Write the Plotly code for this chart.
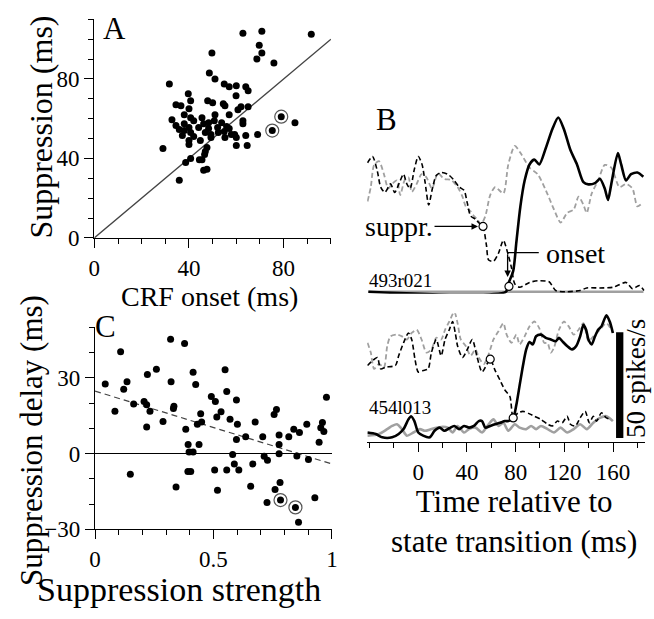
import plotly.graph_objects as go

W, H = 654, 619
SERIF = "Liberation Serif, Times New Roman, serif"

# ---- panel A: CRF onset vs suppression (ms)
crf_onset = [62.8, 70.8, 91.7, 69.7, 70.8, 68.7, 75.9, 49.7, 31.7, 48.6,
             51, 54.9, 57, 60, 64, 65, 59.9, 39.7, 40.7, 47.9,
             50, 54.5, 55.2, 34.5, 36.6, 40, 62, 65, 60.7, 38,
             32.8, 40.7, 42, 45.5, 51, 57, 62.8, 62.8, 50.7, 53.8,
             48.3, 46.2, 34.5, 38, 40, 44.1, 48.3, 52.1, 55.9, 57,
             35.9, 38, 40.7, 46.9, 49.3, 52.4, 54.9, 57.9, 37.2, 42,
             49.3, 55.2, 59.3, 60, 64, 69, 40, 44.8, 40, 60,
             64.6, 29, 47.6, 46.9, 46.6, 45.5, 44.4, 40.7, 38.6, 46.2,
             47.6, 35.9, 84.8, 79, 75.2]
suppression = [103, 104, 102.5, 97, 93, 90, 88, 93, 77.5, 83,
               80, 77.5, 76, 76.5, 76, 74, 71.5, 72.5, 69, 69,
               68, 67.5, 66.5, 67, 66.5, 65, 66, 66, 64.5, 62,
               59.5, 60.5, 59, 60.5, 62, 62, 59, 57.5, 59, 58,
               58, 57.5, 56.5, 57.5, 55.5, 55.5, 55, 55.5, 56, 55,
               54.5, 54, 53, 53, 52, 53, 53.5, 52, 51.5, 51,
               50.5, 50.5, 52, 50.5, 51.5, 52, 49, 49, 47, 46.5,
               46.5, 45, 45.5, 43.5, 42, 39.3, 39.3, 40, 38, 34,
               34.5, 29, 58, 61, 54]
a_marked = [83, 84]
unity = [0, 100]

# ---- panel C: suppression strength vs suppression delay
supp_strength = [0.043, 0.084, 0.108, 0.121, 0.135, 0.149, 0.163, 0.207, 0.218, 0.232,
                 0.218, 0.221, 0.259, 0.287, 0.321, 0.319, 0.333, 0.331, 0.342, 0.378,
                 0.383, 0.393, 0.397, 0.404, 0.414, 0.425, 0.432, 0.446, 0.439, 0.414,
                 0.45, 0.491, 0.508, 0.505, 0.517, 0.514, 0.532, 0.549, 0.556, 0.57,
                 0.556, 0.581, 0.588, 0.601, 0.597, 0.607, 0.636, 0.597, 0.657, 0.666,
                 0.676, 0.708, 0.714, 0.726, 0.728, 0.756, 0.766, 0.76, 0.781, 0.777,
                 0.777, 0.777, 0.783, 0.846, 0.818, 0.839, 0.852, 0.859, 0.863, 0.894,
                 0.901, 0.928, 0.946, 0.953, 0.96, 0.966, 0.977, 0.392]
supp_delay = [27.6, 16.8, 40.4, 25.5, 28.5, -8.2, 19.7, 20.7, 19.4, 16.8,
              10.6, 31.4, 33.4, 12.7, 28.5, 45.3, 18.8, 17.9, -13.2, 43.6,
              9.7, 3.6, 0.6, -7.1, 32.3, 27.4, 11.6, 15.8, 3.6, 0.6,
              12.5, 22.6, 20.7, -6.5, -14.5, 14.5, 16.6, 33.2, 24.6, 13.6,
              -6.5, -0.3, -4.1, 11.6, 5.6, -6.5, 6.7, 21.3, -12.9, -4.1,
              12.5, 6.7, -1, -19.4, -2.6, 15.5, 17.5, -14.2, -11.4, 7.4,
              3.6, 0, -18.4, -21.3, 6.7, 9.7, -0.9, -27.2, 8.4, 11.6,
              -2.3, -17.5, 4.5, 10.3, 12.3, 8.8, 22.3, -7.1]
c_marked = [62, 63]
fit_x = [0, 1]
fit_y = [24.8, -4.1]

# ---- panel B, cell 493r021 (spikes/s vs ms)
b1_black_t = [-41, 72, 73.9, 78, 80.6, 83.9, 87.4, 91.4, 95.4, 99.4,
              104.8, 110.2, 115, 119.6, 125, 130.4, 135.7, 139.8, 145.2, 149.2,
              153.2, 155.9, 158.6, 164, 166.7, 170.7, 174.8, 180, 184.9]
b1_black_r = [0, 0, 3.7, 9.8, 23.5, 40.4, 52.6, 60.2, 62.5, 60.2,
              68, 77, 82.4, 77, 67, 60.2, 51.8, 50.8, 51.4, 53.4,
              48.8, 43.4, 51, 65.6, 60.2, 52.6, 55.6, 56.4, 54.4]
b1_black_dash_t = [-41.7, -37.6, -33.6, -30.9, -27.4, -22.8, -19.4, -14.8, -12.1, -9.4,
                   -6.7, -3.2, 0, 3.2, 5.4, 8.6, 11.3, 14.8, 18.8, 24.2,
                   29.6, 33.6, 37.6, 40.3, 43, 47, 51.6, 53.2, 56, 57.8,
                   61.8, 65.9, 69.9, 73.9, 76.6, 79.3, 83.3, 91.4, 98, 107.5,
                   112.9, 122.3, 133, 138.4, 149, 160, 170.7, 176, 181.5, 185.5]
b1_black_dash_r = [61, 64, 57, 49.5, 47, 51, 47, 52.6, 55.6, 51,
                   48.8, 58, 64, 60, 52.6, 41, 48, 55, 56.4, 55.6,
                   52.6, 49.5, 48, 41.9, 35.8, 34.3, 31.5, 30.9, 22, 15,
                   14.4, 18.2, 24.3, 17.4, 11.3, 3.7, 2.1, 4.4, 5.2, 4.7,
                   0.6, 0, 0.6, 1.8, 1.8, 2.1, 4.4, 1.4, 2.9, 0.6]
b1_gray_dash_t = [-41.7, -39, -36.3, -32.3, -28.2, -24.7, -21.5, -17.5, -14.8, -11.3,
                  -8.1, -5.4, -1.3, 2.7, 6.7, 11.3, 16.1, 21.5, 26.9, 32.3,
                  36.3, 39, 43, 45.7, 48.4, 51.6, 55.1, 59.1, 63.2, 69.9,
                  73.9, 79.3, 84.7, 91.4, 98.1, 104.8, 111.5, 117, 122.3, 127.7,
                  131.7, 135.7, 138.4, 142.5, 147.8, 153.2, 158.6, 165.3, 170.7, 176,
                  180, 184]
b1_gray_dash_r = [42.7, 49.5, 60, 61.8, 55.6, 48.8, 51, 52.6, 45.7, 52.6,
                  54.1, 47.2, 51, 55.6, 54.1, 48.8, 56, 53.3, 52.9, 49.5,
                  45, 40.4, 38, 35.8, 34.3, 32, 35.8, 45.7, 49.5, 46.5,
                  60, 69, 65, 58.7, 55.6, 48, 38.9, 32.7, 37.3, 38.9,
                  45, 41.1, 37.3, 46.5, 52.6, 60, 58.7, 49.5, 51, 48.8,
                  40.4, 41.9]
b1_gray_t = [-41, 185]
b1_gray_r = [0, 0]
b1_marks_t = [53.2, 74.5]
b1_marks_r = [30.9, 2.5]

# ---- panel B, cell 454l013
b2_black_t = [-41.7, -34.9, -29.6, -21.5, -16.1, -12.1, -8.1, -5.9, -3.2, 0,
              4, 9.4, 13.4, 17.5, 21.5, 25.5, 29.6, 33.6, 37.6, 41.7,
              45.7, 49.7, 52.4, 55.1, 59.1, 63.2, 67.2, 71.2, 74, 78,
              80.6, 83.3, 86, 88.7, 91.4, 94.1, 96.8, 100.8, 104.8, 108.9,
              112.9, 115.6, 118.3, 122.3, 126.3, 129.8, 133, 135.7, 137.9, 139.8,
              142.5, 145.2, 147.8, 150.5, 154.6, 157.3, 159.9]
b2_black_r = [2.6, 1.9, 0.3, 0.3, 1.9, 4.2, 8.8, 10.3, 8, 2.6,
              1.1, 0.3, 3.4, 4.9, 3.4, 4.6, 5.7, 4.2, 5.7, 4.9,
              5.7, 8, 8, 4.9, 5.7, 6.5, 7.2, 8, 8, 9.5,
              15.7, 25, 34.2, 41.9, 45.4, 44.3, 48.1, 48.9, 47.4, 46.6,
              45.8, 47.4, 45.8, 43.5, 41.9, 43.5, 48.1, 53.5, 51.2, 46.6,
              44.3, 48.1, 51.2, 52.8, 58.1, 55.1, 49.7]
b2_black_dash_t = [-41.7, -37.6, -33.6, -30.9, -26.9, -18.8, -16.1, -12.1, -8.1, -5.4,
                   -2.7, 0, 4, 8.1, 10.8, 14.8, 18.8, 22, 25.5, 28.2,
                   30.4, 32.3, 36.3, 40.3, 44.4, 48.4, 52.4, 56.5, 59.1, 63.2,
                   67.2, 71.2, 75.3, 78, 82, 86, 91.4, 95.4, 100.8, 106.2,
                   110.2, 114.3, 118.3, 122.3, 125, 129, 133, 137.1, 140.6, 143.8,
                   146.5, 150.5, 154.6, 158.6]
b2_black_dash_r = [34.3, 36.6, 38.1, 32.7, 33.5, 34.3, 38.9, 45, 49.7, 46.6,
                   37.3, 31.2, 31.9, 32.7, 40.4, 46.6, 38.9, 46.6, 51.2, 55.1,
                   49.7, 43.5, 38.1, 41.9, 46.6, 38.1, 31.2, 35, 37.3, 31.9,
                   27.3, 22.7, 19.6, 9.5, 11.9, 12.6, 11.4, 10.3, 8.8, 6.5,
                   5.7, 8, 7.2, 10.3, 6.5, 5.7, 9.5, 12.6, 7.2, 10.3,
                   8, 11.9, 9.5, 8.8]
b2_gray_dash_t = [-41.7, -39, -36.3, -32.3, -28.2, -25.5, -22.8, -17.5, -13.4, -9.4,
                  -5.4, -1.3, 2.7, 6.7, 10.8, 14.8, 18.8, 22, 25.5, 29.6,
                  32.3, 34.9, 39, 43, 47, 49.7, 53.8, 57.8, 61.8, 65.9,
                  69.9, 72.6, 76.6, 80.6, 83.3, 87.4, 91.4, 95.4, 99.4, 103.5,
                  106.2, 108.9, 111.5, 115.6, 119.6, 123.6, 127.7, 131.7, 135.7, 139.8,
                  143.8, 149.2, 154.6, 159.9]
b2_gray_dash_r = [45, 40.4, 32.7, 35, 33.5, 43.5, 48.1, 48.9, 48.1, 46.6,
                  49.7, 51.2, 46.6, 40.4, 41.9, 47.4, 46.6, 51.2, 55.1, 59.7,
                  54.3, 46.6, 43.5, 38.9, 41.9, 38.1, 35, 39.6, 46.6, 50.5,
                  54.3, 48.9, 45, 48.9, 44.3, 48.1, 52.8, 55.1, 52, 45,
                  45, 40.4, 42.7, 51.2, 55.1, 52.8, 48.9, 51.2, 54.3, 45.8,
                  48.1, 51.2, 54.3, 49.7]
b2_gray_t = [-41.7, -32.3, -25.5, -21.5, -17.5, -13.4, -9.4, -4, 1.3, 5.4,
             10.8, 16.1, 20.2, 24.2, 28.2, 32.3, 37.6, 41.7, 47, 52.4,
             57.8, 61.8, 65.9, 69.9, 74, 79.3, 83.3, 88.7, 92.7, 96.8,
             100.8, 106.2, 111.5, 116.9, 122.3, 127.7, 133, 138.4, 143.8, 149.2,
             154.6, 159.9]
b2_gray_r = [1.1, 1.9, 4.2, 5.7, 6.5, 4.2, 1.1, 2.6, 4.2, 3.4,
             4.2, 4.9, 5.3, 4.9, 2.6, 5.7, 2.6, 4.2, 4.9, 2.6,
             6.5, 8.8, 5.7, 7.2, 3.4, 6.5, 4.9, 4.2, 5.7, 4.2,
             5.7, 4.2, 2.6, 4.9, 2.6, 4.2, 6.5, 4.2, 7.2, 9.5,
             10.3, 8]
b2_marks_t = [59.1, 78]
b2_marks_r = [37.3, 9.5]

scale_bar = 50
time_ticks = [0, 40, 80, 120, 160]


def px(x):
    return x / W


def py(y):
    return 1 - y / H


def trace_line(t, r, ax, color, width, dash="solid"):
    return go.Scatter(x=t, y=r, mode="lines", xaxis=ax[0], yaxis=ax[1],
                      line=dict(color=color, width=width, dash=dash,
                                shape="spline", smoothing=0.7),
                      hoverinfo="skip")


fig = go.Figure()

# panel A
fig.add_trace(go.Scatter(x=unity, y=unity, mode="lines", xaxis="x", yaxis="y",
                         line=dict(color="#444", width=1.3)))
fig.add_trace(go.Scatter(x=crf_onset, y=suppression, mode="markers", xaxis="x", yaxis="y",
                         marker=dict(color="black", size=7), cliponaxis=False))
fig.add_trace(go.Scatter(x=[crf_onset[i] for i in a_marked],
                         y=[suppression[i] for i in a_marked],
                         mode="markers", xaxis="x", yaxis="y", cliponaxis=False,
                         marker=dict(size=13, color="rgba(0,0,0,0)",
                                     line=dict(color="#555", width=1.2))))

# panel C
fig.add_trace(go.Scatter(x=fit_x, y=fit_y, mode="lines", xaxis="x2", yaxis="y2",
                         line=dict(color="#444", width=1.2, dash="6px,4px")))
fig.add_trace(go.Scatter(x=supp_strength, y=supp_delay, mode="markers", xaxis="x2", yaxis="y2",
                         marker=dict(color="black", size=7), cliponaxis=False))
fig.add_trace(go.Scatter(x=[supp_strength[i] for i in c_marked],
                         y=[supp_delay[i] for i in c_marked],
                         mode="markers", xaxis="x2", yaxis="y2", cliponaxis=False,
                         marker=dict(size=13, color="rgba(0,0,0,0)",
                                     line=dict(color="#555", width=1.2))))

# panel B traces
GRAY = "#a0a0a0"
for ax, data in ((("x3", "y3"), (b1_gray_t, b1_gray_r, b1_gray_dash_t, b1_gray_dash_r,
                                 b1_black_dash_t, b1_black_dash_r, b1_black_t, b1_black_r,
                                 b1_marks_t, b1_marks_r)),
                 (("x4", "y4"), (b2_gray_t, b2_gray_r, b2_gray_dash_t, b2_gray_dash_r,
                                 b2_black_dash_t, b2_black_dash_r, b2_black_t, b2_black_r,
                                 b2_marks_t, b2_marks_r))):
    gt, gr, gdt, gdr, bdt, bdr, bt, br, mt, mr = data
    fig.add_trace(trace_line(gt, gr, ax, GRAY, 2.6))
    fig.add_trace(trace_line(gdt, gdr, ax, GRAY, 1.8, "5px,3px"))
    fig.add_trace(trace_line(bdt, bdr, ax, "black", 1.6, "5px,3px"))
    fig.add_trace(trace_line(bt, br, ax, "black", 2.6))
    fig.add_trace(go.Scatter(x=mt, y=mr, mode="markers", xaxis=ax[0], yaxis=ax[1],
                             cliponaxis=False,
                             marker=dict(size=8, color="white",
                                         line=dict(color="black", width=1.2))))

tickfont = dict(family=SERIF, size=23, color="black")
axis_common = dict(showgrid=False, showline=True, linecolor="black", linewidth=1.3,
                   ticks="outside", ticklen=9, tickwidth=1.3, tickcolor="black",
                   tickfont=tickfont, zeroline=False, fixedrange=True)


def minor(d):
    return dict(ticks="outside", ticklen=5, tickwidth=1.3, tickcolor="black", dtick=d)


fig.update_layout(
    width=W, height=H, margin=dict(l=0, r=0, t=0, b=0),
    paper_bgcolor="white", plot_bgcolor="rgba(0,0,0,0)", showlegend=False,
    font=dict(family=SERIF, color="black"),
    xaxis=dict(axis_common, domain=[px(90), px(331)], range=[0, 100], anchor="y",
               tickvals=[0, 40, 80], minor=minor(10)),
    yaxis=dict(axis_common, domain=[py(243), py(19.7)], range=[0, 110], anchor="x",
               tickvals=[0, 40, 80], minor=minor(10)),
    xaxis2=dict(axis_common, domain=[px(90.7), px(332)], range=[0, 1], anchor="y2",
                tickvals=[0, 0.5, 1], ticktext=["0", "0.5", "1"], minor=minor(0.1)),
    yaxis2=dict(axis_common, domain=[py(540.7), py(334.5)], range=[-30, 50], anchor="x2",
                tickvals=[-30, 0, 30], minor=minor(10),
                zeroline=True, zerolinecolor="black", zerolinewidth=1.3),
    xaxis3=dict(domain=[px(367.9), px(650.6)], range=[-42, 186], anchor="y3", visible=False,
                fixedrange=True),
    yaxis3=dict(domain=[py(300), py(114)], range=[-0.93, 85.2], anchor="x3", visible=False,
                fixedrange=True),
    xaxis4=dict(axis_common, domain=[px(367.9), px(650.6)], range=[-42, 186], anchor="y4",
                tickvals=time_ticks, minor=minor(20)),
    yaxis4=dict(domain=[py(451.7), py(320)], range=[-2, 59], anchor="x4", visible=False,
                fixedrange=True),
)

fig.add_shape(type="rect", xref="x4", yref="y4", x0=162.5, x1=168.5, y0=0, y1=scale_bar,
              fillcolor="black", line=dict(width=0))
# "onset" pointer
fig.add_shape(type="line", xref="x3", yref="y3", x0=73.4, x1=99, y0=18.5, y1=18.5,
              line=dict(color="black", width=1.2))

ann = []


def text(x, y, s, size, xanchor="center", angle=0, xref="paper", yref="paper"):
    ann.append(dict(x=x, y=y, xref=xref, yref=yref, text=s, showarrow=False,
                    xanchor=xanchor, yanchor="middle", textangle=angle,
                    font=dict(family=SERIF, size=size, color="black")))


text(px(207), py(303), "CRF onset (ms)", 28)
text(px(36), py(130), "Suppression (ms)", 32, angle=-90)
text(px(176), py(602), "Suppression strength", 34)
text(px(26), py(450), "Suppression delay (ms)", 31, angle=-90)
text(px(517), py(533), "Time relative to<br>state transition (ms)", 31)
text(px(97), py(29), "A", 31, xanchor="left")
text(px(375), py(122), "B", 31, xanchor="left")
text(px(89), py(333), "C", 31, xanchor="left")
text(px(368), py(287), "493r021", 19, xanchor="left")
text(px(368), py(416), "454l013", 19, xanchor="left")
text(px(642), py(387), "50 spikes/s", 27, angle=-90)
text(px(580), py(259), "onset", 28)

ann.append(dict(x=b1_marks_t[0], y=b1_marks_r[0], xref="x3", yref="y3", text="suppr.",
                showarrow=True, ax=-84, ay=0, arrowhead=2, arrowsize=1, arrowwidth=1.3,
                arrowcolor="black", standoff=5,
                font=dict(family=SERIF, size=28, color="black")))
ann.append(dict(x=73.4, y=7, xref="x3", yref="y3", axref="x3", ayref="y3",
                ax=73.4, ay=18.5, text="", showarrow=True, arrowhead=2, arrowsize=1,
                arrowwidth=1.3, arrowcolor="black"))
fig.update_layout(annotations=ann)

# page body has a default 8px margin; drop it so the figure sits at the top-left corner
fig.write_html("out.html", config={"displayModeBar": False},
               post_script="document.body.style.margin='0';")
